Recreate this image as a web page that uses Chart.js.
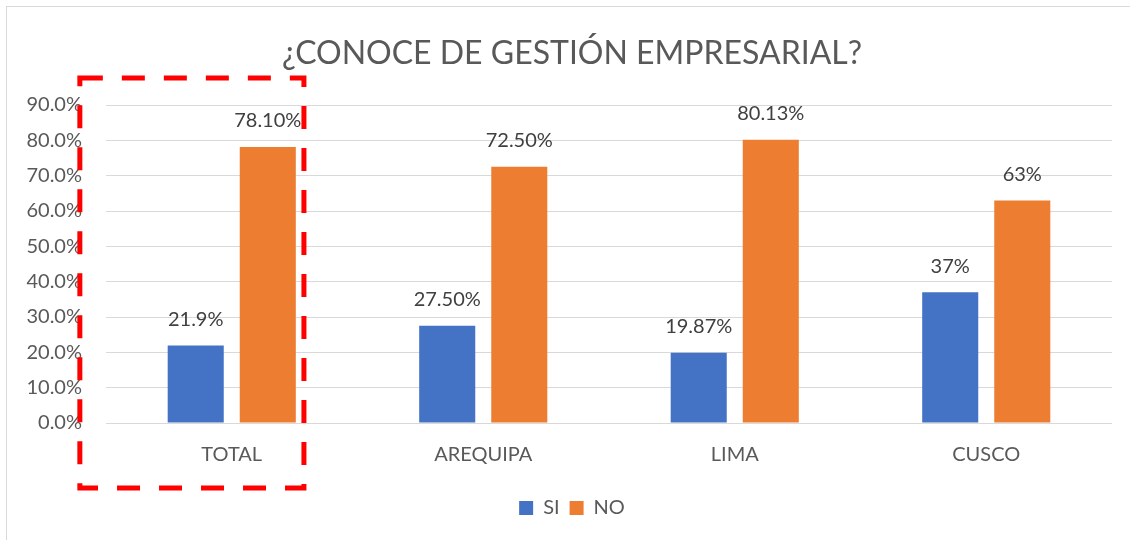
<!DOCTYPE html>
<html>
<head>
<meta charset="utf-8">
<script src="https://cdn.jsdelivr.net/npm/chart.js@4.4.0/dist/chart.umd.min.js"></script>
<style>
  html, body { margin: 0; padding: 0; background: #fff; }
  #wrap { position: relative; width: 1130px; height: 540px; overflow: hidden; }
  #frame { position: absolute; left: 6px; top: 6px; width: 1140px; height: 560px; border: 1px solid #d9d9d9; }
  canvas { position: absolute; left: 0; top: 0; }
</style>
</head>
<body>
<div id="wrap">
  <div id="frame"></div>
  <canvas id="chart" width="1130" height="540"></canvas>
</div>
<script>
// ==== DATA ====
const categories = ['TOTAL', 'AREQUIPA', 'LIMA', 'CUSCO'];
const siValues = [21.9, 27.5, 19.87, 37];
const noValues = [78.1, 72.5, 80.13, 63];
const siLabels = ['21.9%', '27.50%', '19.87%', '37%'];
const noLabels = ['78.10%', '72.50%', '80.13%', '63%'];
const yMax = 90;
const yStep = 10;

const FONT = 'Lato, "Open Sans", sans-serif';
const GRAY = '#595959';

// value labels above bars
const valueLabels = {
  id: 'valueLabels',
  afterDatasetsDraw(chart) {
    const ctx = chart.ctx;
    ctx.save();
    ctx.font = '20px ' + FONT;
    ctx.fillStyle = '#404040';
    ctx.textAlign = 'center';
    ctx.textBaseline = 'middle';
    chart.data.datasets.forEach((ds, i) => {
      chart.getDatasetMeta(i).data.forEach((bar, j) => {
        ctx.fillText(ds.valueText[j], bar.x, bar.y - 26);
      });
    });
    ctx.restore();
  }
};

// title + legend sit a bit right of the canvas centre in the original
const shiftBlocks = {
  id: 'shiftBlocks',
  afterLayout(chart) {
    [chart.titleBlock, chart.legend].forEach(b => {
      if (b) { b.left += 16; b.right += 16; }
    });
  }
};

// red dashed box around the first category
const highlightBox = {
  id: 'highlightBox',
  afterDraw(chart) {
    const x = chart.scales.x, y = chart.scales.y;
    const cw = x.width / categories.length;
    const cx = x.getPixelForValue(0);
    const left = cx - cw * 0.604, right = cx + cw * 0.287;
    const top = y.getPixelForValue(yMax) - 27, bottom = y.getPixelForValue(0) + 65;
    const ctx = chart.ctx;
    ctx.save();
    ctx.strokeStyle = '#ff0000';
    ctx.lineWidth = 5;
    ctx.setLineDash([23, 19]);
    ctx.strokeRect(left, top, right - left, bottom - top);
    ctx.restore();
  }
};

new Chart(document.getElementById('chart'), {
  type: 'bar',
  data: {
    labels: categories,
    datasets: [
      { label: 'SI', data: siValues, valueText: siLabels, backgroundColor: '#4472c4' },
      { label: 'NO', data: noValues, valueText: noLabels, backgroundColor: '#ed7d31' }
    ]
  },
  options: {
    responsive: false,
    animation: false,
    categoryPercentage: 0.573,
    barPercentage: 0.778,
    layout: { padding: { left: 0, right: 18, top: 0, bottom: 12 } },
    plugins: {
      title: {
        display: true,
        text: '¿CONOCE DE GESTIÓN EMPRESARIAL?',
        color: GRAY,
        font: { family: FONT, size: 32, weight: 'normal' },
        padding: { top: 34, bottom: 32.6 }
      },
      legend: {
        position: 'bottom',
        labels: {
          color: GRAY,
          font: { family: FONT, size: 20 },
          boxWidth: 14,
          boxHeight: 14,
          padding: 10
        }
      },
      tooltip: { enabled: false }
    },
    scales: {
      x: {
        grid: { display: false },
        border: { display: false },
        ticks: { color: GRAY, font: { family: FONT, size: 20 }, padding: 12 },
        afterFit(s) { s.height = 65; }
      },
      y: {
        min: 0,
        max: yMax,
        ticks: {
          stepSize: yStep,
          color: GRAY,
          font: { family: FONT, size: 20 },
          padding: 24,
          callback: v => v.toFixed(1) + '%'
        },
        grid: { color: '#d9d9d9', drawTicks: false },
        border: { display: false },
        afterFit(s) { s.width = 106; }
      }
    }
  },
  plugins: [valueLabels, shiftBlocks, highlightBox]
});
</script>
</body>
</html>
